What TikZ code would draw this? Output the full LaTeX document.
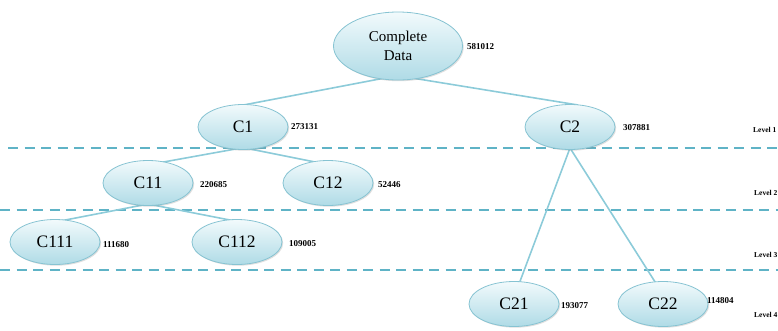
\documentclass[tikz,border=0pt]{standalone}
\usepackage{fontspec}
\setmainfont{Liberation Serif}
\usetikzlibrary{shadows,shapes.geometric}
\definecolor{edgeblue}{HTML}{8CCBD9}
\definecolor{dashblue}{HTML}{5FB3C6}
\definecolor{rimblue}{HTML}{86C3D2}
\definecolor{topfill}{HTML}{F2FAFC}
\definecolor{botfill}{HTML}{AFDBE6}
\tikzset{
  x=1pt, y=-1pt,
  cluster/.style={ellipse, draw=rimblue, line width=0.8pt,
    top color=topfill, bottom color=botfill,
    minimum width=90pt, minimum height=45pt, inner sep=0pt,
    font=\fontsize{17.5}{20}\selectfont,
    drop shadow={shadow xshift=1.2pt, shadow yshift=-1.2pt, opacity=0.25, fill=gray}},
  count/.style={anchor=west, font=\bfseries\fontsize{9}{10}\selectfont, inner sep=0pt},
  levtag/.style={anchor=west, font=\bfseries\fontsize{7.5}{9}\selectfont, inner sep=0pt},
  link/.style={draw=edgeblue, line width=1.6pt},
  sep/.style={draw=dashblue, line width=2pt, dash pattern=on 10pt off 6.5pt}
}
\begin{document}
\begin{tikzpicture}
\useasboundingbox (0,0) rectangle (778,330);
\clip (0,0) rectangle (778,330);

% level separators
\draw[sep] (8,148) -- (790,148);
\draw[sep] (0,210) -- (790,210);
\draw[sep] (0,270) -- (790,270);

% cluster centres
\coordinate (pRoot) at (398,46);
\coordinate (pC1) at (243,127);
\coordinate (pC2) at (570,127);
\coordinate (pC11) at (148,183);
\coordinate (pC12) at (328,183);
\coordinate (pC111) at (55,242);
\coordinate (pC112) at (237,242);
\coordinate (pC21) at (514,304);
\coordinate (pC22) at (663,304);

% connectors first, so the clusters sit on top
\draw[link] (390,77) -- (233,107);
\draw[link] (406,77) -- (578,105);
\draw[link] (241,148) -- (158,163);
\draw[link] (245,148) -- (320,163);
\draw[link] (570,148) -- (519,284);
\draw[link] (570,148) -- (657,285);
\draw[link] (148,204) -- (55,222);
\draw[link] (148,204) -- (240,222);

% clusters
\node[cluster, minimum width=129pt, minimum height=68pt, align=center,
      font=\fontsize{15}{19}\selectfont] (root) at (pRoot) {Complete\\Data};
\node[cluster] (c1) at (pC1) {C1};
\node[cluster] (c2) at (pC2) {C2};
\node[cluster] (c11) at (pC11) {C11};
\node[cluster] (c12) at (pC12) {C12};
\node[cluster] (c111) at (pC111) {C111};
\node[cluster] (c112) at (pC112) {C112};
\node[cluster] (c21) at (pC21) {C21};
\node[cluster] (c22) at (pC22) {C22};

% record counts
\node[count] (nroot) at (467,47) {581012};
\node[count] (nc1) at (291,127) {273131};
\node[count] (nc2) at (623,128) {307881};
\node[count] (nc11) at (200,185) {220685};
\node[count] (nc12) at (378,185) {52446};
\node[count] (nc111) at (103,245) {111680};
\node[count] (nc112) at (289,244) {109005};
\node[count] (nc21) at (561,306) {193077};
\node[count] (nc22) at (707,301) {114804};

% level tags
\node[levtag] (l1) at (753,130) {Level 1};
\node[levtag] (l2) at (754,193) {Level 2};
\node[levtag] (l3) at (754,255) {Level 3};
\node[levtag] (l4) at (754,315) {Level 4};
\end{tikzpicture}
\end{document}
